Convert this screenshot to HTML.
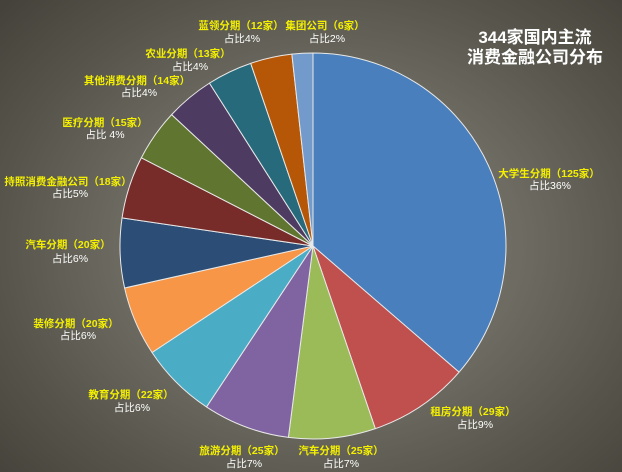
<!DOCTYPE html>
<html><head><meta charset="utf-8"><style>
html,body{margin:0;padding:0;}
body{width:622px;height:472px;overflow:hidden;background:radial-gradient(ellipse 70% 75% at 52% 52%, #7f7d74 0%, #6e6c62 45%, #57554b 75%, #44423a 100%);}
svg{display:block;}
text{font-family:"Liberation Sans","Noto Sans CJK SC",sans-serif;}
.y{fill:#f4f000;font-size:10.5px;font-weight:bold;text-anchor:middle;}
.w{fill:#ffffff;font-size:10.5px;text-anchor:middle;}
.t{fill:#ffffff;font-size:17px;font-weight:bold;text-anchor:middle;}
</style></head><body>
<svg width="622" height="472" viewBox="0 0 622 472" xmlns="http://www.w3.org/2000/svg">
<g stroke="#e8e8e8" stroke-width="1" stroke-linejoin="round">
<path d="M313,246 L313,53 A193,193 0 0,1 459.03,372.18 Z" fill="#4a7fbd"/>
<path d="M313,246 L459.03,372.18 A193,193 0 0,1 375.32,428.66 Z" fill="#c0504d"/>
<path d="M313,246 L375.32,428.66 A193,193 0 0,1 288.39,437.42 Z" fill="#9bbb59"/>
<path d="M313,246 L288.39,437.42 A193,193 0 0,1 206.5,406.96 Z" fill="#8064a2"/>
<path d="M313,246 L206.5,406.96 A193,193 0 0,1 152.04,352.5 Z" fill="#4bacc6"/>
<path d="M313,246 L152.04,352.5 A193,193 0 0,1 124.61,287.96 Z" fill="#f79646"/>
<path d="M313,246 L124.61,287.96 A193,193 0 0,1 122.06,217.9 Z" fill="#2c4d75"/>
<path d="M313,246 L122.06,217.9 A193,193 0 0,1 141.36,157.76 Z" fill="#772c2a"/>
<path d="M313,246 L141.36,157.76 A193,193 0 0,1 171.62,114.62 Z" fill="#5f7530"/>
<path d="M313,246 L171.62,114.62 A193,193 0 0,1 209.45,83.13 Z" fill="#4d3b62"/>
<path d="M313,246 L209.45,83.13 A193,193 0 0,1 250.69,63.34 Z" fill="#276a7c"/>
<path d="M313,246 L250.69,63.34 A193,193 0 0,1 291.89,54.16 Z" fill="#b65708"/>
<path d="M313,246 L291.89,54.16 A193,193 0 0,1 313,53 Z" fill="#729aca"/>
</g>

<text class="t" x="535" y="43">344家国内主流</text>
<text class="t" x="535" y="63">消费金融公司分布</text>

<text class="y" x="549" y="177">大学生分期（125家）</text>
<text class="w" x="550" y="189">占比36%</text>

<text class="y" x="473" y="415">租房分期（29家）</text>
<text class="w" x="475" y="428">占比9%</text>

<text class="y" x="341" y="454">汽车分期（25家）</text>
<text class="w" x="341" y="467">占比7%</text>

<text class="y" x="242" y="454">旅游分期（25家）</text>
<text class="w" x="244" y="467">占比7%</text>

<text class="y" x="131" y="398">教育分期（22家）</text>
<text class="w" x="132" y="411">占比6%</text>

<text class="y" x="76" y="327">装修分期（20家）</text>
<text class="w" x="78" y="339">占比6%</text>

<text class="y" x="68" y="248">汽车分期（20家）</text>
<text class="w" x="70" y="262">占比6%</text>

<text class="y" x="68" y="185">持照消费金融公司（18家）</text>
<text class="w" x="70" y="197">占比5%</text>

<text class="y" x="105" y="126">医疗分期（15家）</text>
<text class="w" x="105" y="138">占比 4%</text>

<text class="y" x="137" y="84">其他消费分期（14家）</text>
<text class="w" x="139" y="96">占比4%</text>

<text class="y" x="188" y="57">农业分期（13家）</text>
<text class="w" x="190" y="70">占比4%</text>

<text class="y" x="241" y="29">蓝领分期（12家）</text>
<text class="w" x="242" y="42">占比4%</text>

<text class="y" x="325" y="29">集团公司（6家）</text>
<text class="w" x="327" y="42">占比2%</text>
</svg>
</body></html>
